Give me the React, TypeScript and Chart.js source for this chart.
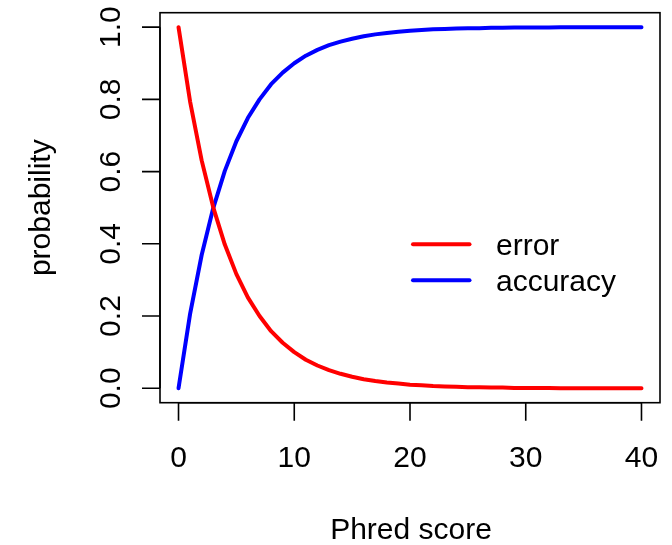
import React, { useEffect, useRef } from "react";
import { Chart, registerables } from "chart.js";

Chart.register(...registerables);

const phred: number[] = [
  0, 1, 2, 3, 4, 5, 6, 7, 8, 9, 10, 11, 12, 13, 14, 15, 16, 17, 18, 19, 20,
  21, 22, 23, 24, 25, 26, 27, 28, 29, 30, 31, 32, 33, 34, 35, 36, 37, 38, 39, 40,
];
const errorProb: number[] = [
  1.0, 0.794, 0.631, 0.501, 0.398, 0.316, 0.251, 0.2, 0.158, 0.126, 0.1,
  0.079, 0.063, 0.05, 0.04, 0.032, 0.025, 0.02, 0.016, 0.013, 0.01,
  0.008, 0.006, 0.005, 0.004, 0.003, 0.003, 0.002, 0.002, 0.001, 0.001,
  0.001, 0.001, 0.0, 0.0, 0.0, 0.0, 0.0, 0.0, 0.0, 0.0,
];
const accuracyProb: number[] = [
  0.0, 0.206, 0.369, 0.499, 0.602, 0.684, 0.749, 0.8, 0.842, 0.874, 0.9,
  0.921, 0.937, 0.95, 0.96, 0.968, 0.975, 0.98, 0.984, 0.987, 0.99,
  0.992, 0.994, 0.995, 0.996, 0.997, 0.997, 0.998, 0.998, 0.999, 0.999,
  0.999, 0.999, 1.0, 1.0, 1.0, 1.0, 1.0, 1.0, 1.0, 1.0,
];
const xTicks: number[] = [0, 10, 20, 30, 40];
const yTicks: number[] = [0, 0.2, 0.4, 0.6, 0.8, 1.0];
const yTickLabels: string[] = ["0.0", "0.2", "0.4", "0.6", "0.8", "1.0"];
const seriesNames: string[] = ["error", "accuracy"];
const seriesColors: string[] = ["#FF0000", "#0000FF"];
const xTitle = "Phred score";
const yTitle = "probability";

const FONT = '30px "Liberation Sans", Arial, Helvetica, sans-serif';

const rAxesPlugin = {
  id: "rAxes",
  afterDraw(chart: any) {
    const ctx = chart.ctx;
    const area = chart.chartArea;
    const xs = chart.scales.x;
    const ys = chart.scales.y;
    ctx.save();
    ctx.strokeStyle = "#000";
    ctx.fillStyle = "#000";
    ctx.lineWidth = 1.6;
    ctx.lineCap = "butt";
    // box
    ctx.strokeRect(area.left, area.top, area.right - area.left, area.bottom - area.top);
    const tick = 18;
    // x axis
    ctx.beginPath();
    ctx.moveTo(xs.getPixelForValue(xTicks[0]), area.bottom);
    ctx.lineTo(xs.getPixelForValue(xTicks[xTicks.length - 1]), area.bottom);
    for (const t of xTicks) {
      const px = xs.getPixelForValue(t);
      ctx.moveTo(px, area.bottom);
      ctx.lineTo(px, area.bottom + tick);
    }
    // y axis
    ctx.moveTo(area.left, ys.getPixelForValue(yTicks[0]));
    ctx.lineTo(area.left, ys.getPixelForValue(yTicks[yTicks.length - 1]));
    for (const t of yTicks) {
      const py = ys.getPixelForValue(t);
      ctx.moveTo(area.left, py);
      ctx.lineTo(area.left - tick, py);
    }
    ctx.stroke();

    ctx.font = FONT;
    // x tick labels
    ctx.textAlign = "center";
    ctx.textBaseline = "alphabetic";
    for (const t of xTicks) {
      ctx.fillText(String(t), xs.getPixelForValue(t), 467);
    }
    // x title
    ctx.fillText(xTitle, (area.left + area.right) / 2 + 1, 539);
    // y tick labels (rotated)
    yTicks.forEach((t, i) => {
      ctx.save();
      ctx.translate(120, ys.getPixelForValue(t));
      ctx.rotate(-Math.PI / 2);
      ctx.fillText(yTickLabels[i], 0, 0);
      ctx.restore();
    });
    // y title
    ctx.save();
    ctx.translate(49.5, (area.top + area.bottom) / 2);
    ctx.rotate(-Math.PI / 2);
    ctx.fillText(yTitle, 0, 0);
    ctx.restore();

    // legend
    const legendYs = [244.3, 280.3];
    ctx.lineWidth = 4;
    ctx.lineCap = "round";
    seriesNames.forEach((name, i) => {
      ctx.strokeStyle = seriesColors[i];
      ctx.beginPath();
      ctx.moveTo(413, legendYs[i]);
      ctx.lineTo(469.5, legendYs[i]);
      ctx.stroke();
      ctx.textAlign = "left";
      ctx.fillStyle = "#000";
      ctx.fillText(name, 496, legendYs[i] + 10.5);
    });
    ctx.restore();
  },
};

export default function App() {
  const ref = useRef<HTMLCanvasElement | null>(null);
  useEffect(() => {
    if (!ref.current) return;
    const chart = new Chart(ref.current, {
      type: "line",
      data: {
        datasets: [
          {
            label: seriesNames[0],
            data: phred.map((q, i) => ({ x: q, y: errorProb[i] })),
            borderColor: seriesColors[0],
            backgroundColor: seriesColors[0],
            borderWidth: 4,
            pointRadius: 0,
            tension: 0,
            borderCapStyle: "round",
            borderJoinStyle: "round",
          },
          {
            label: seriesNames[1],
            data: phred.map((q, i) => ({ x: q, y: accuracyProb[i] })),
            borderColor: seriesColors[1],
            backgroundColor: seriesColors[1],
            borderWidth: 4,
            pointRadius: 0,
            tension: 0,
            borderCapStyle: "round",
            borderJoinStyle: "round",
          },
        ],
      },
      options: {
        responsive: false,
        animation: false,
        devicePixelRatio: 1,
        layout: { padding: { left: 160, right: 12, top: 12.7, bottom: 142.3 } },
        plugins: { legend: { display: false }, tooltip: { enabled: false } },
        scales: {
          x: { type: "linear", min: -1.6, max: 41.6, display: false },
          y: { type: "linear", min: -0.04, max: 1.04, display: false },
        },
      },
      plugins: [rAxesPlugin],
    } as any);
    return () => chart.destroy();
  }, []);
  return (
    <div style={{ position: "fixed", left: 0, top: 0, width: 672, height: 545, background: "#fff" }}>
      <canvas ref={ref} width={672} height={545} style={{ display: "block" }} />
    </div>
  );
}
